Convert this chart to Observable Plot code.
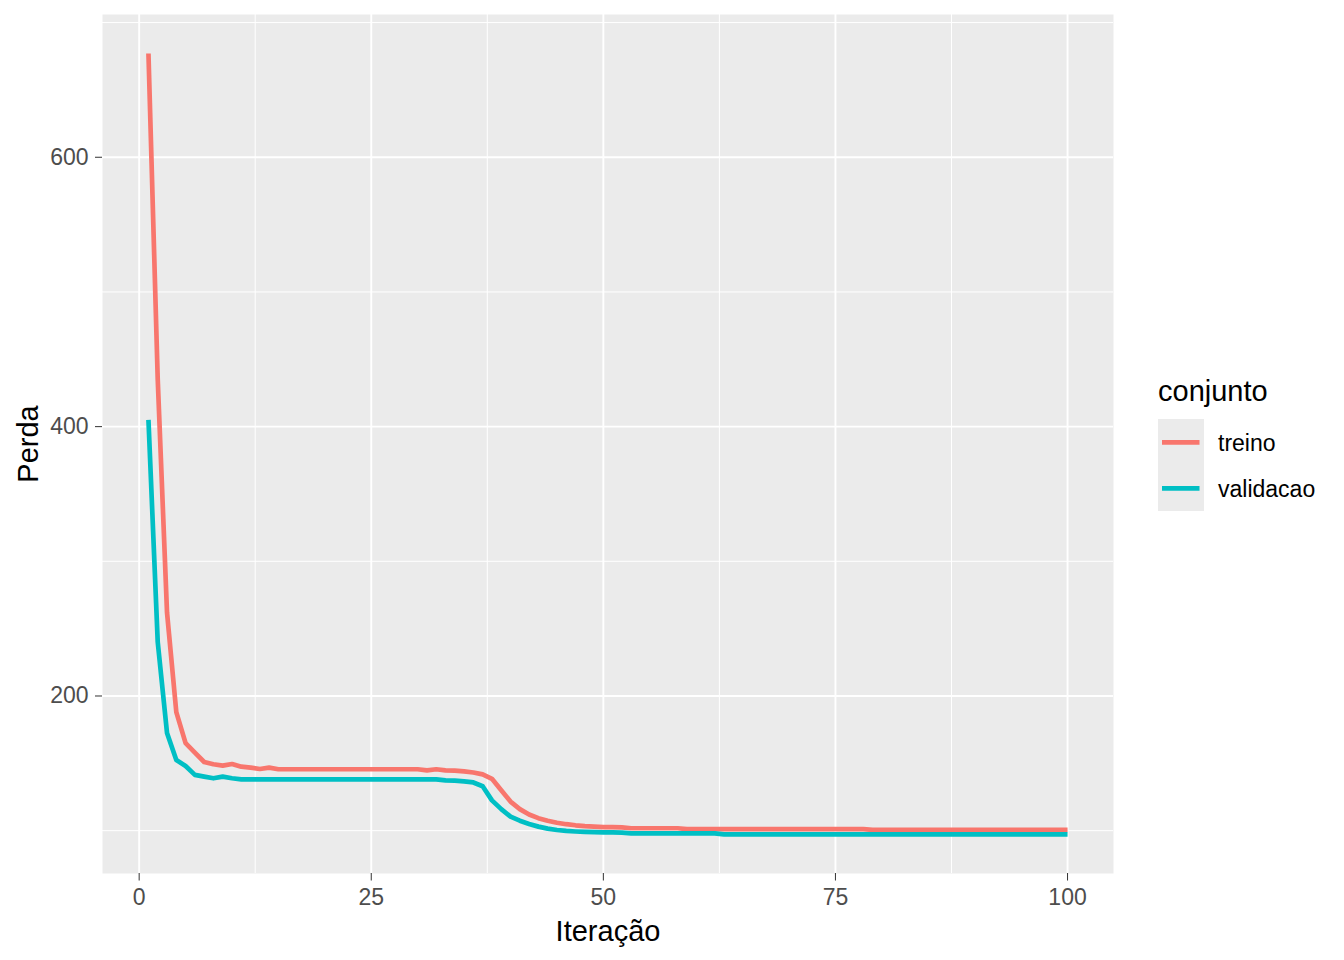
<!DOCTYPE html>
<html><head><meta charset="utf-8">
<script src="https://cdn.jsdelivr.net/npm/d3@7"></script>
<script src="https://cdn.jsdelivr.net/npm/@observablehq/plot@0.6"></script>
<style>
body{margin:0;background:#fff;font-family:"Liberation Sans",Arial,sans-serif}
#wrap{position:relative;width:1344px;height:960px}
#legend{position:absolute;left:0;top:0;pointer-events:none}
</style></head><body><div id="wrap"></div>
<script>
const iteracao = [1,2,3,4,5,6,7,8,9,10,11,12,13,14,15,16,17,18,19,20,
  21,22,23,24,25,26,27,28,29,30,31,32,33,34,35,36,37,38,39,40,
  41,42,43,44,45,46,47,48,49,50,51,52,53,54,55,56,57,58,59,60,
  61,62,63,64,65,66,67,68,69,70,71,72,73,74,75,76,77,78,79,80,
  81,82,83,84,85,86,87,88,89,90,91,92,93,94,95,96,97,98,99,100];
const treino = [677,435,262,188,165,158,151,149.3,148.3,149.5,
  147.5,146.8,145.8,146.8,145.6,145.6,145.6,145.6,145.6,145.6,
  145.6,145.6,145.6,145.6,145.6,145.6,145.6,145.6,145.6,145.6,
  144.8,145.6,144.8,144.6,144,143.2,141.8,138.5,130,121.6,
  116,112,109.3,107.4,105.9,104.8,104,103.4,103,102.6,
  102.6,102.4,101.8,101.8,101.8,101.8,101.8,101.8,101.2,101.2,
  101.2,101.2,101.2,101.2,101.2,101.2,101.2,101.2,101.2,101.2,
  101.2,101.2,101.2,101.2,101.2,101.2,101.2,101.2,100.6,100.6,
  100.6,100.6,100.6,100.6,100.6,100.6,100.6,100.6,100.6,100.6,
  100.6,100.6,100.6,100.6,100.6,100.6,100.6,100.6,100.6,100.6];
const validacao = [405,240,172.5,152.5,148,141.4,140.1,138.9,140.1,138.9,
  138.1,138.1,138.1,138.1,138.1,138.1,138.1,138.1,138.1,138.1,
  138.1,138.1,138.1,138.1,138.1,138.1,138.1,138.1,138.1,138.1,
  138.1,138.1,137.3,137.2,136.6,135.8,133,122.5,116,110.4,
  107.4,105,103,101.5,100.5,99.8,99.4,99.1,98.9,98.7,
  98.7,98.6,98,98,98,98,98,98,98,98,
  98,98,97.2,97.2,97.2,97.2,97.2,97.2,97.2,97.2,
  97.2,97.2,97.2,97.2,97.2,97.2,97.2,97.2,97.2,97.2,
  97.2,97.2,97.2,97.2,97.2,97.2,97.2,97.2,97.2,97.2,
  97.2,97.2,97.2,97.2,97.2,97.2,97.2,97.2,97.2,97.2];
const conjuntos = ["treino","validacao"];
const cores = ["#F8766D","#00BFC4"];
const xTicks = [0,25,50,75,100];
const yTicks = [200,400,600];
const xMinor = [12.5,37.5,62.5,87.5];
const yMinor = [100,300,500,700];
const xTitulo = "Iteração";
const yTitulo = "Perda";
const legendaTitulo = "conjunto";

const rows = [];
iteracao.forEach((it,i)=>rows.push({it, perda: treino[i], conjunto: conjuntos[0]}));
iteracao.forEach((it,i)=>rows.push({it, perda: validacao[i], conjunto: conjuntos[1]}));

const chart = Plot.plot({
  width:1344, height:960,
  marginLeft:102, marginRight:231, marginTop:14, marginBottom:87,
  style:{fontFamily:"'Liberation Sans', Arial, sans-serif", background:"white", color:"black"},
  x:{domain:[-3.95,104.95]},
  y:{domain:[68.2,706]},
  color:{domain:conjuntos, range:cores},
  marks:[
    Plot.frame({fill:"#EBEBEB", stroke:"none"}),
    Plot.ruleX(xMinor,{stroke:"white",strokeWidth:1}),
    Plot.ruleY(yMinor,{stroke:"white",strokeWidth:1}),
    Plot.ruleX(xTicks,{stroke:"white",strokeWidth:1.9}),
    Plot.ruleY(yTicks,{stroke:"white",strokeWidth:1.9}),
    Plot.line(rows,{x:"it",y:"perda",stroke:"conjunto",z:"conjunto",strokeWidth:4.7,strokeLinecap:"butt",strokeLinejoin:"round"}),
    Plot.axisX(xTicks,{tickSize:7.5,tickPadding:8,fontSize:23,stroke:"#333333",fill:"#4D4D4D",label:null,tickFormat:d=>String(d)}),
    Plot.axisY(yTicks,{anchor:"left",tickSize:7,tickPadding:7,fontSize:23,stroke:"#333333",fill:"#4D4D4D",label:null,tickFormat:d=>String(d)}),
    Plot.text([xTitulo],{frameAnchor:"bottom",dy:67,lineAnchor:"bottom",fontSize:29,fill:"black"}),
    Plot.text([yTitulo],{frameAnchor:"left",dx:-65,rotate:-90,textAnchor:"middle",lineAnchor:"bottom",fontSize:29,fill:"black"})
  ]
});
const wrap = document.getElementById("wrap");
wrap.appendChild(chart);

// legend
const ns = "http://www.w3.org/2000/svg";
const leg = document.createElementNS(ns,"svg");
leg.setAttribute("id","legend");
leg.setAttribute("width",1344);
leg.setAttribute("height",960);
leg.style.fontFamily = "'Liberation Sans', Arial, sans-serif";
function el(tag, attrs, text){
  const e = document.createElementNS(ns, tag);
  for (const k in attrs) e.setAttribute(k, attrs[k]);
  if (text != null) e.textContent = text;
  leg.appendChild(e);
  return e;
}
el("text",{x:1158,y:401,"font-size":29,fill:"black"},legendaTitulo);
el("rect",{x:1158,y:419,width:46,height:92,fill:"#EBEBEB"});
conjuntos.forEach((c,i)=>{
  const cy = 442.3 + i*46;
  el("line",{x1:1162,x2:1199.5,y1:cy,y2:cy,stroke:cores[i],"stroke-width":4.7});
  el("text",{x:1218,y:cy+8.8,"font-size":23,fill:"black"},c);
});
wrap.appendChild(leg);
</script>
</body></html>
